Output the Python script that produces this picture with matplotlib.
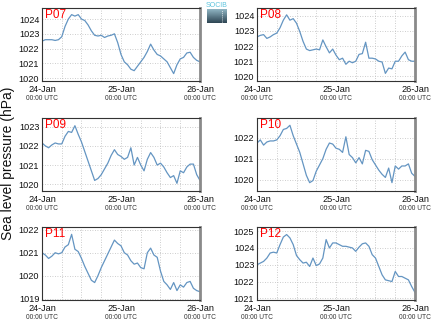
import numpy as np
import matplotlib
matplotlib.use("Agg")
import matplotlib.pyplot as plt
from matplotlib.ticker import MultipleLocator

plt.rcParams['font.family'] = ['Liberation Sans', 'DejaVu Sans']

# ---------------- DATA ---------------- #
hours = list(range(49))  # hourly, 24-Jan 00:00 UTC -> 26-Jan 00:00 UTC

p07 = [1022.5, 1022.6, 1022.6, 1022.6, 1022.55, 1022.6, 1022.8, 1023.5, 1024.0, 1024.3,
       1024.2, 1024.3, 1024.0, 1023.9, 1023.6, 1023.2, 1022.9, 1022.85, 1022.9, 1022.75,
       1022.85, 1022.9, 1023.0, 1022.4, 1021.6, 1021.1, 1020.9, 1020.6, 1020.5, 1020.8,
       1021.1, 1021.4, 1021.8, 1022.3, 1021.9, 1021.6, 1021.5, 1021.3, 1021.1, 1020.7,
       1020.3, 1020.9, 1021.3, 1021.4, 1021.7, 1021.75, 1021.4, 1021.2, 1021.1]
p08 = [1022.6, 1022.7, 1022.75, 1022.5, 1022.6, 1022.75, 1022.85, 1023.2, 1023.7, 1024.05,
       1023.7, 1023.8, 1023.5, 1022.95, 1022.3, 1021.8, 1021.7, 1021.75, 1021.8, 1021.75,
       1022.4, 1021.95, 1021.55, 1021.8, 1021.4, 1021.1, 1021.2, 1020.8, 1021.0, 1020.9,
       1021.0, 1021.45, 1021.5, 1022.25, 1021.2, 1021.2, 1021.15, 1021.0, 1020.95, 1020.2,
       1020.55, 1020.5, 1021.0, 1021.0, 1021.35, 1021.6, 1021.1, 1021.0, 1021.0]
p09 = [1022.15, 1022.0, 1021.9, 1022.05, 1022.15, 1022.1, 1022.1, 1022.5, 1022.75, 1022.7,
       1023.05, 1022.6, 1022.2, 1021.7, 1021.2, 1020.7, 1020.2, 1020.3, 1020.5, 1020.8,
       1021.1, 1021.5, 1021.8, 1021.55, 1021.45, 1021.3, 1021.4, 1021.9, 1021.0, 1021.4,
       1021.0, 1020.7, 1021.3, 1021.65, 1021.4, 1021.0, 1021.1, 1020.9, 1020.6, 1020.35,
       1020.45, 1020.05, 1020.7, 1020.6, 1020.9, 1021.05, 1021.05, 1020.5, 1020.2]
p10 = [1021.75, 1021.9, 1021.65, 1021.8, 1021.85, 1021.85, 1021.9, 1022.1, 1022.4, 1022.45,
       1022.6, 1022.1, 1021.7, 1021.3, 1020.75, 1020.2, 1019.85, 1019.95, 1020.4, 1020.7,
       1021.0, 1021.45, 1021.75, 1021.7, 1021.5, 1021.45, 1021.3, 1022.05, 1021.2, 1021.05,
       1020.8, 1021.05, 1020.75, 1021.4, 1021.35, 1020.95, 1020.7, 1020.45, 1020.25, 1020.1,
       1020.55, 1019.85, 1020.65, 1020.5, 1020.65, 1020.65, 1020.75, 1020.3, 1020.15]
p11 = [1021.0, 1020.9, 1020.75, 1020.85, 1021.0, 1020.95, 1021.0, 1021.25, 1021.35, 1021.8,
       1021.15, 1021.05, 1020.75, 1020.4, 1020.1, 1019.8, 1019.7, 1020.0, 1020.35, 1020.65,
       1020.95, 1021.25, 1021.55, 1021.4, 1021.3, 1021.0, 1020.9, 1020.65, 1020.5, 1020.55,
       1020.35, 1020.3, 1021.0, 1021.2, 1020.9, 1020.8, 1020.2, 1019.75, 1019.6, 1019.4,
       1019.7, 1019.35, 1019.6, 1019.5, 1019.7, 1019.75, 1019.45, 1019.35, 1019.3]
p12 = [1023.0, 1023.1, 1023.2, 1023.4, 1023.7, 1023.75, 1023.7, 1024.2, 1024.65, 1024.8,
       1024.6, 1024.2, 1023.55, 1023.3, 1023.1, 1023.15, 1022.9, 1023.4, 1022.95, 1023.05,
       1023.4, 1024.5, 1024.0, 1024.3, 1024.3, 1024.2, 1024.1, 1024.1, 1024.05, 1024.0,
       1023.8, 1024.05, 1024.25, 1024.3, 1024.1, 1023.6, 1023.4, 1022.9, 1022.4, 1022.1,
       1022.05, 1022.0, 1022.6, 1022.3, 1022.3, 1022.2, 1022.1, 1021.7, 1021.35]

names = ["P07", "P08", "P09", "P10", "P11", "P12"]
series = [p07, p08, p09, p10, p11, p12]
ylims = [(1019.8, 1024.75), (1019.7, 1024.5), (1019.65, 1023.45),
         (1019.45, 1022.95), (1018.94, 1022.12), (1020.9, 1025.25)]
date_labels = ["24-Jan", "25-Jan", "26-Jan"]
date_ticks = [0, 24, 48]

# ---------------- LAYOUT ---------------- #
fig = plt.figure(figsize=(4.35, 3.27), dpi=100)
W, H = 435.0, 327.0
lefts = [42, 257]
tops = [8, 118, 227]
aw, ah = 158, 73

line_color = "#6495c2"

for i, (name, vals, yl) in enumerate(zip(names, series, ylims)):
    row, col = divmod(i, 2)
    x0 = lefts[col]
    y0 = tops[row]
    ax = fig.add_axes([x0 / W, 1 - (y0 + ah) / H, aw / W, ah / H])
    ax.plot(hours, vals, color=line_color, lw=0.9)
    ax.set_xlim(0, 48)
    ax.set_ylim(*yl)
    ax.yaxis.set_major_locator(MultipleLocator(1))
    ax.set_xticks(date_ticks)
    ax.set_xticklabels([])
    ax.xaxis.set_minor_locator(MultipleLocator(6))
    ax.grid(True, which='both', axis='x', color='#bdbdbd', ls=(0, (1, 2)), lw=0.6)
    ax.grid(True, which='major', axis='y', color='#bdbdbd', ls=(0, (1, 2)), lw=0.6)
    ax.tick_params(axis='both', which='both', length=0)
    ax.tick_params(axis='y', labelsize=6.6, pad=2, colors='#111111')
    for s in ['left', 'bottom', 'top']:
        ax.spines[s].set_color('#333333')
        ax.spines[s].set_linewidth(0.8)
    ax.spines['right'].set_color('#8a8a8a')
    ax.spines['right'].set_linewidth(2.0)

    for t, lab in zip(date_ticks, date_labels):
        ax.text(t, -0.12, lab, transform=ax.get_xaxis_transform(),
                ha='center', va='center', fontsize=6.6, color='#111111')
        ax.text(t, -0.245, "00:00 UTC", transform=ax.get_xaxis_transform(),
                ha='center', va='center', fontsize=4.8, color='#333333')

    ax.text(0.02, 0.99, name, transform=ax.transAxes, ha='left', va='top',
            fontsize=8.5, color='red')

fig.text(8 / W, 0.5, "Sea level pressure (hPa)", rotation=90,
         ha='center', va='center', fontsize=10, color='#111111')

# small SOCIB logo
fig.text(217 / W, 1 - 5.5 / H, "SOCIB", ha='center', va='center',
         fontsize=5, color='#5cc3dd')
lax = fig.add_axes([207 / W, 1 - 23 / H, 20 / W, 14 / H])
grad = np.linspace(0, 1, 50).reshape(-1, 1)
lax.imshow(grad, aspect='auto', cmap=matplotlib.colors.LinearSegmentedColormap.from_list(
    'logo', ['#8fb4c2', '#2e4654']), extent=[0, 1, 0, 1], origin='upper')
lax.plot([0.75, 0.75], [0.1, 0.9], color='white', ls=(0, (1, 1.5)), lw=0.6)
lax.set_xlim(0, 1)
lax.set_ylim(0, 1)
lax.axis('off')

fig.savefig("out.png", dpi=100)
